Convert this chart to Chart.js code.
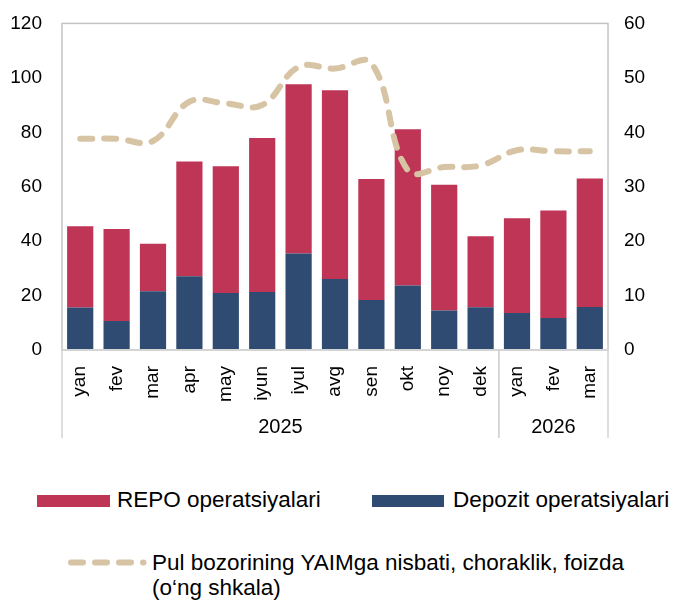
<!DOCTYPE html>
<html>
<head>
<meta charset="utf-8">
<script src="https://cdn.jsdelivr.net/npm/chart.js@4.4.1/dist/chart.umd.min.js"></script>
<style>
  body { margin: 0; background: #fff; font-family: "Liberation Sans", Arial, sans-serif; }
  #wrap { position: relative; width: 673px; height: 603px; }
  #box { position: absolute; left: 0; top: 0; width: 673px; height: 445px; }
  .lg { position: absolute; font-size: 22.5px; color: #000; white-space: nowrap; }
  .sw { position: absolute; height: 12px; }
</style>
</head>
<body>
<div id="wrap">
  <div id="box"><canvas id="myChart"></canvas></div>

  <div class="sw" style="left:37px;top:495px;width:73px;background:#BF3556"></div>
  <div class="lg" style="left:117px;top:487px;line-height:26px">REPO operatsiyalari</div>
  <div class="sw" style="left:372px;top:495px;width:72px;background:#2F4B71"></div>
  <div class="lg" style="left:453px;top:487px;line-height:26px">Depozit operatsiyalari</div>

  <svg style="position:absolute;left:0;top:550px" width="150" height="24">
    <line x1="71" y1="12.5" x2="143.5" y2="12.5" stroke="#D7C4A5" stroke-width="6"
          stroke-linecap="round" stroke-dasharray="12 12"/>
  </svg>
  <div class="lg" style="left:152px;top:550px;line-height:25px">Pul bozorining YAIMga nisbati, choraklik, foizda<br>(o‘ng shkala)</div>
</div>

<script>
var months = ['yan', 'fev', 'mar', 'apr', 'may', 'iyun', 'iyul', 'avg', 'sen', 'okt', 'noy', 'dek', 'yan', 'fev', 'mar'];
var years = ['2025', '2026'];
var yearSpan = [12, 3]; // months in each year group

// bars, left scale
var depozit = [15.6, 10.7, 21.6, 27.1, 20.9, 21.3, 35.5, 26.1, 18.4, 23.7, 14.5, 15.7, 13.6, 11.8, 15.8];
var repo = [29.9, 33.8, 17.4, 42.2, 46.6, 56.6, 62.1, 69.3, 44.4, 57.4, 46.2, 26.1, 34.8, 39.5, 47.2];
// line, right scale
var pulBozor = [38.8, 38.8, 38.4, 45.6, 45.3, 45.0, 52.0, 51.7, 52.7, 33.0, 33.6, 33.9, 36.7, 36.5, 36.5];

var frameAndYears = {
    id: 'frameAndYears',
    afterDatasetsDraw: function (chart) {
        var ctx = chart.ctx;
        var a = chart.chartArea;
        var x = chart.scales.x;
        ctx.save();
        ctx.strokeStyle = '#C4C4C4';
        ctx.lineWidth = 1.5;
        ctx.strokeRect(a.left, a.top, a.right - a.left, a.bottom - a.top);
        ctx.strokeStyle = '#D4D4D4';
        ctx.lineWidth = 2;
        ctx.beginPath();
        ctx.moveTo(a.left, a.bottom);
        ctx.lineTo(a.right, a.bottom);
        ctx.stroke();

        // year groups under the month labels
        var bottom = a.bottom + 88;
        ctx.lineWidth = 1.5;
        ctx.font = '20px "Liberation Sans", Arial, sans-serif';
        ctx.fillStyle = '#000';
        ctx.textAlign = 'center';
        ctx.textBaseline = 'middle';
        var start = 0;
        var half = (x.getPixelForValue(1) - x.getPixelForValue(0)) / 2;
        for (var i = 0; i < years.length; i++) {
            var end = start + yearSpan[i] - 1;
            var x0 = x.getPixelForValue(start) - half;
            var x1 = x.getPixelForValue(end) + half;
            ctx.strokeStyle = '#D4D4D4';
            ctx.beginPath();
            ctx.moveTo(x0, a.bottom);
            ctx.lineTo(x0, bottom);
            ctx.moveTo(x1, a.bottom);
            ctx.lineTo(x1, bottom);
            ctx.stroke();
            ctx.fillText(years[i], (x0 + x1) / 2, a.bottom + 77);
            start = end + 1;
        }
        ctx.restore();
    }
};

var ctx = document.getElementById('myChart').getContext('2d');
var myChart = new Chart(ctx, {
    type: 'bar',
    data: {
        labels: months,
        datasets: [{
            type: 'line',
            label: 'Pul bozorining YAIMga nisbati, choraklik, foizda (o‘ng shkala)',
            data: pulBozor,
            yAxisID: 'y1',
            borderColor: '#D7C4A5',
            borderWidth: 6,
            borderDash: [12, 12],
            borderCapStyle: 'round',
            pointRadius: 0,
            tension: 0.4,
            fill: false,
            order: 0
        }, {
            label: 'Depozit operatsiyalari',
            data: depozit,
            backgroundColor: '#2F4B71',
            stack: 's',
            order: 1
        }, {
            label: 'REPO operatsiyalari',
            data: repo,
            backgroundColor: '#BF3556',
            stack: 's',
            order: 1
        }]
    },
    options: {
        responsive: true,
        maintainAspectRatio: false,
        animation: false,
        layout: { padding: { top: 11, left: 0, right: 0, bottom: 0 } },
        datasets: { bar: { barPercentage: 0.72, categoryPercentage: 1 } },
        plugins: { legend: { display: false }, tooltip: { enabled: false } },
        scales: {
            x: {
                stacked: true,
                grid: { display: false },
                border: { display: false },
                ticks: {
                    minRotation: 90, maxRotation: 90, padding: 8,
                    color: '#000',
                    font: { family: '"Liberation Sans", Arial, sans-serif', size: 19 }
                },
                afterFit: function (s) { s.height = 95; }
            },
            y: {
                stacked: true,
                position: 'left',
                min: 0, max: 120,
                grid: { display: false },
                border: { display: false },
                ticks: {
                    stepSize: 20, padding: 12, color: '#000',
                    font: { family: '"Liberation Sans", Arial, sans-serif', size: 19 }
                },
                afterFit: function (s) { s.width = 62; }
            },
            y1: {
                position: 'right',
                min: 0, max: 60,
                grid: { display: false },
                border: { display: false },
                ticks: {
                    stepSize: 10, padding: 8, color: '#000',
                    font: { family: '"Liberation Sans", Arial, sans-serif', size: 19 }
                },
                afterFit: function (s) { s.width = 65; }
            }
        }
    },
    plugins: [frameAndYears]
});
</script>
</body>
</html>
